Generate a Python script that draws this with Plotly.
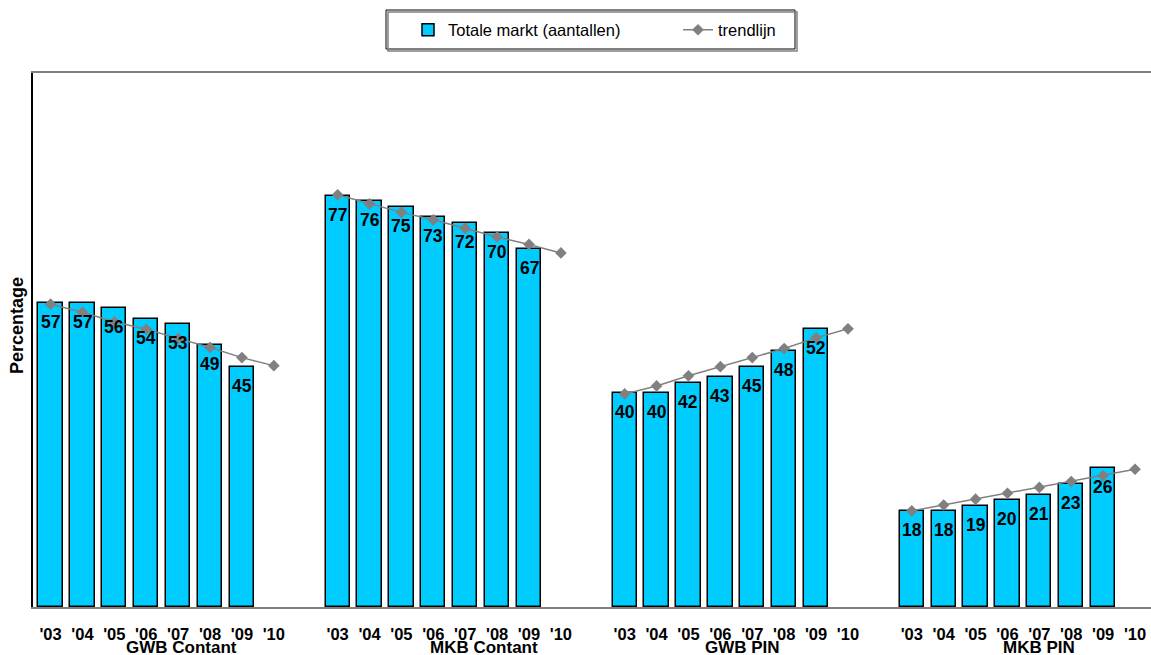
import plotly.graph_objects as go

# Categories
groups = ["GWB Contant", "MKB Contant", "GWB PIN", "MKB PIN"]
years = ["'03", "'04", "'05", "'06", "'07", "'08", "'09", "'10"]

# Totale markt (aantallen), '03 - '09 per group
gwb_contant = [57, 57, 56, 54, 53, 49, 45]
mkb_contant = [77, 76, 75, 73, 72, 70, 67]
gwb_pin = [40, 40, 42, 43, 45, 48, 52]
mkb_pin = [18, 18, 19, 20, 21, 23, 26]

# Trendlijn, '03 - '10 per group
gwb_contant_trend = [56.7, 55.2, 53.4, 52.0, 50.3, 48.6, 46.7, 45.2]
mkb_contant_trend = [77.2, 75.5, 73.9, 72.5, 70.9, 69.3, 67.9, 66.3]
gwb_pin_trend = [39.9, 41.4, 43.3, 45.0, 46.7, 48.4, 50.4, 52.1]
mkb_pin_trend = [18.0, 19.1, 20.2, 21.3, 22.4, 23.5, 24.6, 25.8]

market = [gwb_contant, mkb_contant, gwb_pin, mkb_pin]
trend = [gwb_contant_trend, mkb_contant_trend, gwb_pin_trend, mkb_pin_trend]

# layout helpers: each group takes 8 year slots plus one empty slot
SLOTS = len(years) + 1
LABEL_OFFSET = [4.1, 4.6, 3.7, 4.0]
FONT = "Arial, Liberation Sans, sans-serif"

W, H = 1151, 655
ML, MR, MT, MB = 33, 0, 73, 48
PW, PH = W - ML - MR, H - MT - MB


def px_x(p):
    return (p - ML) / PW


def px_y(p):
    return (H - MB - p) / PH


bar_x, bar_y = [], []
for g, vals in enumerate(market):
    for i, v in enumerate(vals):
        bar_x.append(g * SLOTS + i)
        bar_y.append(v)

trend_x, trend_y = [], []
for g, vals in enumerate(trend):
    for i, v in enumerate(vals):
        trend_x.append(g * SLOTS + i)
        trend_y.append(v)
    trend_x.append(None)
    trend_y.append(None)

tickvals = [g * SLOTS + i for g in range(len(groups)) for i in range(len(years))]
ticktext = years * len(groups)

fig = go.Figure()
fig.add_trace(go.Bar(
    x=bar_x, y=bar_y, width=0.76,
    name="Totale markt (aantallen)",
    marker=dict(color="#00CCFF", line=dict(color="#000000", width=1.5)),
    legend="legend",
))
fig.add_trace(go.Scatter(
    x=trend_x, y=trend_y, mode="lines+markers",
    name="trendlijn", connectgaps=False,
    line=dict(color="#808080", width=1.5),
    marker=dict(symbol="diamond", size=9, color="#808080"),
    legend="legend2",
))

annotations = []
for x, v in zip(bar_x, bar_y):
    annotations.append(dict(
        x=x, y=v, xref="x", yref="y", text=str(v), showarrow=False,
        yanchor="top", yshift=-7,
        font=dict(family=FONT, size=17.5, color="#000000", weight="bold"),
    ))
for g, name in enumerate(groups):
    annotations.append(dict(
        x=g * SLOTS + LABEL_OFFSET[g], y=0, xref="x", yref="paper",
        text=name, showarrow=False, yanchor="top", yshift=-29,
        font=dict(family=FONT, size=17, color="#000000", weight="bold"),
    ))
# y-axis title
annotations.append(dict(
    x=px_x(17), y=px_y(326), xref="paper", yref="paper",
    text="Percentage", textangle=-90, showarrow=False,
    xanchor="center", yanchor="middle",
    font=dict(family=FONT, size=18, color="#000000", weight="bold"),
))

fig.update_layout(
    width=W, height=H,
    margin=dict(l=ML, r=MR, t=MT, b=MB),
    paper_bgcolor="white", plot_bgcolor="white",
    font=dict(family=FONT, color="#000000"),
    showlegend=True,
    bargap=0,
    annotations=annotations,
    legend=dict(
        orientation="h", x=px_x(408), y=px_y(30), xanchor="left", yanchor="middle",
        font=dict(family=FONT, size=16.5, color="#000000"),
        bgcolor="rgba(0,0,0,0)", borderwidth=0,
    ),
    legend2=dict(
        orientation="h", x=px_x(678), y=px_y(30), xanchor="left", yanchor="middle",
        font=dict(family=FONT, size=16.5, color="#000000"),
        bgcolor="rgba(0,0,0,0)", borderwidth=0,
    ),
    shapes=[
        dict(type="rect", xref="paper", yref="paper",
             x0=px_x(388), x1=px_x(797), y0=px_y(51), y1=px_y(12),
             line=dict(color="#808080", width=1.5), fillcolor="rgba(0,0,0,0)"),
        dict(type="rect", xref="paper", yref="paper",
             x0=px_x(386), x1=px_x(795), y0=px_y(49), y1=px_y(10),
             line=dict(color="#000000", width=1), fillcolor="white", layer="below"),
    ],
    xaxis=dict(
        range=[-0.55, len(groups) * SLOTS - 1.5],
        tickvals=tickvals, ticktext=ticktext, ticks="",
        tickfont=dict(family=FONT, size=16.5, color="#000000", weight="bold"),
        ticklabelstandoff=11,
        showline=True, linecolor="#808080", linewidth=1.5, mirror=True,
        showgrid=False, zeroline=False,
    ),
    yaxis=dict(
        range=[0, 100], showticklabels=False, ticks="",
        showline=True, linecolor="#000000", linewidth=1.5,
        showgrid=False, zeroline=False,
    ),
)

fig.write_html("out.html")
